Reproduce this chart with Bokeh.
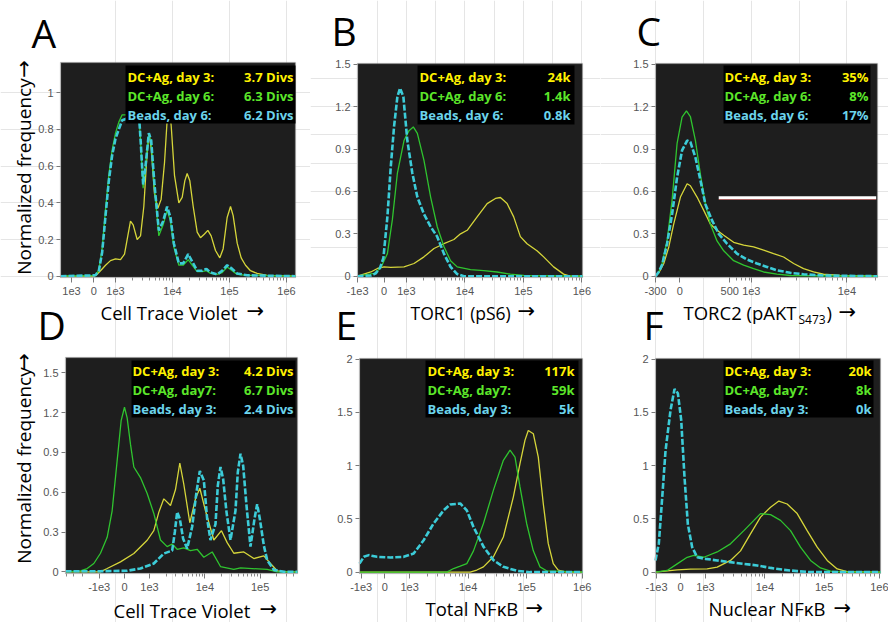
import math
from bokeh.plotting import figure
from bokeh.models import Label, BoxAnnotation, FixedTicker, Range1d, LinearAxis
from bokeh.layouts import row
from bokeh.embed import file_html
from bokeh.resources import INLINE

# ---------------- data (x in axis display units: 3 = 1e3, 4 = 1e4 ...) ----------------
A_cyan_x = [2.035, 2.649, 2.708, 2.766, 2.825, 2.883, 2.942, 3.0, 3.058, 3.117, 3.205, 3.292, 3.351, 3.392, 3.439, 3.485, 3.526, 3.585, 3.626, 3.684, 3.760, 3.836, 3.906, 3.965, 4.023, 4.111, 4.187, 4.275, 4.345, 4.433, 4.520, 4.596, 4.667, 4.784, 4.871, 4.959, 5.047, 5.135, 5.310, 6.158]
A_cyan_y = [0, 0.005, 0.03, 0.13, 0.33, 0.52, 0.66, 0.75, 0.8, 0.85, 0.86, 0.87, 0.95, 0.97, 0.75, 0.5, 0.6, 0.78, 0.74, 0.5, 0.25, 0.3, 0.38, 0.32, 0.18, 0.07, 0.07, 0.12, 0.08, 0.03, 0.03, 0.04, 0.02, 0.01, 0.03, 0.06, 0.04, 0.015, 0.005, 0]
A_green_x = A_cyan_x
A_green_y = [0, 0.005, 0.035, 0.15, 0.36, 0.55, 0.69, 0.78, 0.84, 0.88, 0.88, 0.88, 0.95, 0.97, 0.74, 0.48, 0.6, 0.77, 0.73, 0.48, 0.22, 0.28, 0.36, 0.3, 0.16, 0.06, 0.06, 0.09, 0.06, 0.025, 0.025, 0.03, 0.015, 0.01, 0.02, 0.05, 0.03, 0.01, 0.005, 0]
A_yellow_x = [2.035, 2.620, 2.678, 2.737, 2.825, 2.912, 3.0, 3.088, 3.158, 3.216, 3.263, 3.310, 3.380, 3.439, 3.497, 3.544, 3.585, 3.626, 3.684, 3.743, 3.801, 3.860, 3.906, 3.942, 3.977, 4.035, 4.111, 4.170, 4.216, 4.257, 4.304, 4.363, 4.433, 4.491, 4.561, 4.620, 4.678, 4.754, 4.830, 4.889, 4.959, 5.018, 5.064, 5.135, 5.205, 5.281, 5.368, 5.485, 5.661, 6.158]
A_yellow_y = [0, 0, 0.01, 0.03, 0.06, 0.085, 0.095, 0.09, 0.12, 0.22, 0.3, 0.28, 0.2, 0.22, 0.38, 0.62, 0.78, 0.7, 0.45, 0.37, 0.42, 0.62, 0.85, 0.93, 0.82, 0.55, 0.4, 0.43, 0.52, 0.56, 0.52, 0.38, 0.24, 0.21, 0.23, 0.25, 0.22, 0.14, 0.1, 0.15, 0.32, 0.38, 0.33, 0.18, 0.1, 0.06, 0.03, 0.015, 0.005, 0]

B_cyan_x = [2.165, 2.392, 2.477, 2.551, 2.608, 2.676, 2.733, 2.790, 2.847, 2.892, 2.949, 3.017, 3.102, 3.188, 3.301, 3.415, 3.528, 3.642, 3.756, 3.869, 3.983, 6.011]
B_cyan_y = [0, 0.005, 0.02, 0.06, 0.13, 0.42, 0.77, 1.06, 1.27, 1.33, 1.27, 0.96, 0.73, 0.56, 0.44, 0.35, 0.28, 0.16, 0.066, 0.015, 0, 0]
B_green_x = [2.165, 2.449, 2.563, 2.676, 2.761, 2.847, 2.960, 3.045, 3.119, 3.188, 3.301, 3.415, 3.528, 3.642, 3.756, 3.869, 4.097, 4.324, 4.551, 4.778, 5.006, 6.011]
B_green_y = [0, 0.02, 0.06, 0.16, 0.4, 0.73, 0.96, 1.03, 1.056, 1.01, 0.82, 0.56, 0.35, 0.21, 0.11, 0.066, 0.047, 0.04, 0.03, 0.015, 0.005, 0]
B_yellow_x = [2.165, 2.392, 2.506, 2.619, 2.733, 2.960, 3.131, 3.301, 3.472, 3.642, 3.813, 3.926, 4.040, 4.210, 4.381, 4.523, 4.608, 4.722, 4.835, 4.949, 5.063, 5.233, 5.347, 5.517, 5.688, 5.801, 6.011]
B_yellow_y = [0, 0.03, 0.055, 0.066, 0.062, 0.066, 0.09, 0.137, 0.196, 0.23, 0.26, 0.3, 0.325, 0.42, 0.514, 0.55, 0.557, 0.514, 0.42, 0.28, 0.23, 0.18, 0.137, 0.066, 0.015, 0, 0]

C_cyan_x = [1.997, 2.031, 2.066, 2.118, 2.171, 2.223, 2.275, 2.328, 2.362, 2.415, 2.467, 2.519, 2.589, 2.659, 2.746, 2.850, 2.955, 3.059, 3.164, 3.268, 3.408, 3.547, 3.756, 4.321]
C_cyan_y = [0, 0.03, 0.08, 0.23, 0.44, 0.7, 0.89, 0.96, 0.95, 0.84, 0.68, 0.51, 0.395, 0.3, 0.23, 0.16, 0.118, 0.09, 0.066, 0.042, 0.024, 0.014, 0.005, 0]
C_green_x = [1.997, 2.031, 2.066, 2.118, 2.171, 2.223, 2.275, 2.321, 2.362, 2.415, 2.467, 2.519, 2.571, 2.641, 2.711, 2.815, 2.920, 3.024, 3.129, 3.268, 3.408, 4.321]
C_green_y = [0, 0.03, 0.09, 0.25, 0.54, 0.94, 1.125, 1.17, 1.13, 0.96, 0.72, 0.51, 0.37, 0.25, 0.18, 0.11, 0.078, 0.054, 0.03, 0.015, 0.005, 0]
C_yellow_x = [1.997, 2.031, 2.084, 2.136, 2.188, 2.258, 2.328, 2.362, 2.432, 2.502, 2.571, 2.641, 2.711, 2.815, 2.920, 3.024, 3.129, 3.233, 3.338, 3.443, 3.547, 3.652, 3.756, 3.930, 4.321]
C_yellow_y = [0, 0.024, 0.09, 0.207, 0.37, 0.56, 0.654, 0.64, 0.56, 0.466, 0.37, 0.325, 0.29, 0.24, 0.22, 0.207, 0.184, 0.16, 0.136, 0.09, 0.054, 0.03, 0.014, 0.005, 0]
C_gate_x = [2.659, 4.307]
C_gate_y = 0.555
C_gate_edge_y = 0.543

D_cyan_x = [1.482, 2.114, 2.596, 2.837, 3.078, 3.259, 3.410, 3.458, 3.500, 3.548, 3.608, 3.681, 3.771, 3.849, 3.910, 3.982, 4.042, 4.102, 4.193, 4.235, 4.283, 4.331, 4.392, 4.464, 4.554, 4.596, 4.645, 4.693, 4.753, 4.825, 4.898, 4.946, 4.994, 5.066, 5.127, 5.247, 5.428, 5.675]
D_cyan_y = [0.005, 0.005, 0.008, 0.025, 0.063, 0.138, 0.16, 0.3, 0.45, 0.4, 0.25, 0.175, 0.34, 0.6, 0.76, 0.69, 0.4, 0.24, 0.36, 0.65, 0.79, 0.7, 0.45, 0.24, 0.46, 0.75, 0.89, 0.8, 0.5, 0.19, 0.4, 0.51, 0.4, 0.2, 0.088, 0.015, 0, 0]
D_green_x = [1.482, 1.753, 1.873, 1.994, 2.114, 2.235, 2.325, 2.416, 2.488, 2.548, 2.596, 2.657, 2.717, 2.837, 2.958, 3.078, 3.199, 3.319, 3.410, 3.500, 3.620, 3.741, 3.861, 3.982, 4.133, 4.283, 4.524, 4.645, 5.127, 5.307, 5.675]
D_green_y = [0, 0.008, 0.025, 0.063, 0.14, 0.26, 0.46, 0.84, 1.14, 1.24, 1.16, 0.96, 0.79, 0.71, 0.59, 0.44, 0.24, 0.19, 0.21, 0.17, 0.18, 0.16, 0.17, 0.11, 0.15, 0.04, 0.018, 0.03, 0.018, 0, 0]
D_yellow_x = [1.482, 2.114, 2.235, 2.476, 2.717, 2.958, 3.078, 3.169, 3.259, 3.380, 3.470, 3.548, 3.620, 3.729, 3.831, 3.910, 4.012, 4.163, 4.301, 4.404, 4.524, 4.705, 4.886, 5.066, 5.187, 5.307, 5.488, 5.675]
D_yellow_y = [0, 0, 0.025, 0.075, 0.138, 0.238, 0.31, 0.45, 0.55, 0.5, 0.62, 0.82, 0.66, 0.37, 0.55, 0.63, 0.46, 0.24, 0.31, 0.22, 0.14, 0.15, 0.1, 0.12, 0.063, 0.008, 0, 0]

E_cyan_x = [2.142, 2.216, 2.301, 2.443, 2.670, 2.898, 3.068, 3.239, 3.409, 3.580, 3.693, 3.864, 3.977, 4.091, 4.261, 4.432, 4.602, 4.830, 5.057, 5.955]
E_cyan_y = [0.08, 0.144, 0.16, 0.144, 0.138, 0.144, 0.175, 0.3, 0.457, 0.58, 0.635, 0.645, 0.58, 0.425, 0.24, 0.113, 0.05, 0.013, 0, 0]
E_green_x = [2.142, 3.636, 3.750, 3.864, 3.977, 4.091, 4.261, 4.432, 4.602, 4.716, 4.801, 4.886, 5.0, 5.114, 5.227, 5.341, 5.955]
E_green_y = [0, 0, 0.034, 0.056, 0.08, 0.2, 0.457, 0.77, 1.05, 1.145, 1.08, 0.8, 0.457, 0.2, 0.05, 0.013, 0]
E_yellow_x = [2.142, 4.034, 4.148, 4.261, 4.432, 4.602, 4.773, 4.886, 4.972, 5.028, 5.114, 5.199, 5.284, 5.369, 5.455, 5.540, 5.682, 5.955]
E_yellow_y = [0, 0, 0.02, 0.05, 0.144, 0.33, 0.707, 1.02, 1.24, 1.33, 1.3, 1.08, 0.645, 0.27, 0.08, 0.02, 0, 0]

F_cyan_x = [2.157, 2.213, 2.270, 2.326, 2.410, 2.478, 2.534, 2.590, 2.646, 2.702, 2.775, 2.860, 3.0, 3.197, 3.421, 3.646, 3.871, 4.096, 4.320, 4.545, 4.770, 5.949]
F_cyan_y = [0.11, 0.27, 0.7, 1.14, 1.52, 1.72, 1.68, 1.43, 0.89, 0.45, 0.235, 0.14, 0.125, 0.11, 0.094, 0.078, 0.063, 0.04, 0.022, 0.01, 0, 0]
F_green_x = [2.157, 2.354, 2.522, 2.691, 2.803, 2.972, 3.197, 3.421, 3.646, 3.815, 3.927, 4.096, 4.264, 4.433, 4.601, 4.770, 4.938, 5.107, 5.331, 5.949]
F_green_y = [0, 0.016, 0.078, 0.14, 0.157, 0.14, 0.19, 0.266, 0.39, 0.486, 0.55, 0.54, 0.486, 0.39, 0.235, 0.11, 0.04, 0.01, 0, 0]
F_yellow_x = [2.157, 2.522, 2.747, 3.028, 3.197, 3.421, 3.590, 3.758, 3.927, 4.096, 4.236, 4.376, 4.545, 4.713, 4.882, 5.051, 5.219, 5.388, 5.949]
F_yellow_y = [0, 0.022, 0.028, 0.03, 0.047, 0.11, 0.2, 0.36, 0.517, 0.61, 0.668, 0.64, 0.55, 0.39, 0.235, 0.11, 0.03, 0.006, 0]

# axis ranges of each panel's plot area (display units)
A_xr, A_yr = (2.035, 6.158), (-0.007, 1.165)
B_xr, B_yr = (2.165, 6.011), (-0.009, 1.505)
C_xr, C_yr = (1.997, 4.321), (-0.009, 1.505)
D_xr, D_yr = (1.482, 5.675), (-0.0125, 1.615)
E_xr, E_yr = (2.142, 5.955), (-0.0125, 2.006)
F_xr, F_yr = (2.157, 5.949), (-0.0125, 2.006)

# tick positions (display units) and labels
A_xticks = [2.228, 2.62, 3.0, 4.0, 5.0, 6.0]
A_xlabels = ["1e3", "0", "1e3", "1e4", "1e5", "1e6"]
B_xticks = [2.165, 2.619, 3.0, 4.0, 5.0, 6.0]
B_xlabels = ["-1e3", "0", "1e3", "1e4", "1e5", "1e6"]
C_xticks = [1.997, 2.251, 2.774, 3.0, 4.0]
C_xlabels = ["-300", "0", "500", "1e3", "1e4"]
D_xticks = [2.09, 2.548, 3.0, 4.0, 5.0]
D_xlabels = ["-1e3", "0", "1e3", "1e4", "1e5"]
E_xticks = [2.17, 2.574, 3.0, 4.0, 5.0, 5.95]
E_xlabels = ["-1e3", "0", "1e3", "1e4", "1e5", "1e6"]
F_xticks = [2.174, 2.579, 3.0, 4.0, 5.0, 5.94]
F_xlabels = ["-1e3", "0", "1e3", "1e4", "1e5", "1e6"]

Y1_ticks = [0, 0.2, 0.4, 0.6, 0.8, 1.0]
Y1_labels = ["0", "0.2", "0.4", "0.6", "0.8", "1"]
Y2_ticks = [0, 0.3, 0.6, 0.9, 1.2, 1.5]
Y2_labels = ["0", "0.3", "0.6", "0.9", "1.2", "1.5"]
Y3_ticks = [0, 0.5, 1.0, 1.5, 2.0]
Y3_labels = ["0", "0.5", "1", "1.5", "2"]

LEG_TOP = ["DC+Ag,  day 3:", "DC+Ag, day 6:", "Beads,  day 6:"]
LEG_BOT = ["DC+Ag, day 3:", "DC+Ag, day7:", "Beads, day 3:"]
A_vals = ["3.7 Divs", "6.3 Divs", "6.2 Divs"]
B_vals = ["24k", "1.4k", "0.8k"]
C_vals = ["35%", "8%", "17%"]
D_vals = ["4.2 Divs", "6.7 Divs", "2.4 Divs"]
E_vals = ["117k", "59k", "5k"]
F_vals = ["20k", "8k", "0k"]

# ---------------- styling ----------------
YEL_LINE = "#D6D63A"
GRN_LINE = "#2FC42F"
CYN_LINE = "#3CCCD8"
TXT_COL = ["#FFF200", "#5CE62A", "#6CD4EC"]
TICK_FONT = "Liberation Sans"
SANS = "Open Sans"
ARROW = "\u2192"
PAGE_H = 622

ORIGIN = {}


def log_minors(lo, hi):
    out = []
    for d in range(3, 7):
        for m in range(2, 10):
            v = d + math.log10(m)
            if lo < v < hi:
                out.append(round(v, 4))
    return out


def ranges_for(canvas, box, xr, yr):
    cx0, cy0, cx1, cy1 = canvas
    bx0, by0, bx1, by1 = box
    u0, u1 = xr
    v0, v1 = yr
    kx = (u1 - u0) / (bx1 - bx0)
    ky = (v1 - v0) / (by1 - by0)
    return ((u0 - (bx0 - cx0) * kx, u1 + (cx1 - bx1) * kx),
            (v0 - (cy1 - by1) * ky, v1 + (by0 - cy0) * ky))


def style_axis(ax):
    ax.axis_line_color = "#b8b8b8"
    ax.major_tick_line_color = "#7a7a7a"
    ax.minor_tick_line_color = "#8a8a8a"
    ax.major_label_text_font = TICK_FONT
    ax.major_label_text_font_size = "11px"
    ax.major_label_text_color = "#555555"
    ax.major_tick_in = 0
    ax.minor_tick_in = 0


def make_col(cx0, cx1, panels):
    """One figure per column holding two panels; its frame fills the whole canvas.
    panels: list of (box, xr, yr, xticks, xlabels, xminor, yticks, ylabels)."""
    canvas = (cx0, 0, cx1, PAGE_H)
    rngs = [ranges_for(canvas, pn[0], pn[1], pn[2]) for pn in panels]
    p = figure(width=cx1 - cx0, height=PAGE_H,
               x_range=Range1d(*rngs[0][0]), y_range=Range1d(*rngs[0][1]),
               x_axis_location=None, y_axis_location=None,
               output_backend="svg", toolbar_location=None,
               min_border=0, min_border_left=0, min_border_right=0,
               min_border_top=0, min_border_bottom=0)
    p.extra_x_ranges = {"bot": Range1d(*rngs[1][0])}
    p.extra_y_ranges = {"bot": Range1d(*rngs[1][1])}
    p.background_fill_color = "white"
    p.border_fill_color = "white"
    p.outline_line_color = None
    ORIGIN[p.id] = (cx0, PAGE_H)
    for (box, xr, yr, xt, xl, xminor, yt, yl), rn in zip(panels, ("default", "bot")):
        bx0, by0, bx1, by1 = box
        p.add_layout(BoxAnnotation(left=bx0 - cx0, right=bx1 - cx0,
                                   top=PAGE_H - by0, bottom=PAGE_H - by1,
                                   left_units="screen", right_units="screen",
                                   top_units="screen", bottom_units="screen",
                                   fill_color="#1e1e1e", fill_alpha=1.0,
                                   line_color="#a8a8a8", line_width=1.5, level="underlay"))
        xa = LinearAxis(x_range_name=rn, y_range_name=rn, fixed_location=yr[0], bounds=xr,
                        ticker=FixedTicker(ticks=xt, minor_ticks=xminor),
                        major_label_overrides=dict(zip(xt, xl)))
        style_axis(xa)
        xa.major_tick_out = 5
        xa.minor_tick_out = 3
        xa.major_label_standoff = 4
        p.add_layout(xa, "below")
        ya = LinearAxis(x_range_name=rn, y_range_name=rn, fixed_location=xr[0], bounds=yr,
                        ticker=FixedTicker(ticks=yt, minor_ticks=[]),
                        major_label_overrides=dict(zip(yt, yl)))
        style_axis(ya)
        ya.major_tick_out = 4
        ya.major_label_standoff = 3
        p.add_layout(ya, "left")
    return p


def put(p, X, base, text, size, color="black", align="left", font=SANS, style="normal",
        angle=0.0, mid=None):
    """X: page x; base: page y of the text baseline (or mid: page y of its middle)."""
    cx0, cy1 = ORIGIN[p.id]
    Y = mid if mid is not None else base - 0.34 * size
    p.add_layout(Label(x=X - cx0, y=cy1 - Y, x_units="screen", y_units="screen", text=text,
                       text_font=font, text_font_size=f"{size}px", text_color=color,
                       text_align=align, text_baseline="middle", text_font_style=style,
                       angle=angle))


def curves(p, rn, yx, yy, gx, gy, cx, cy):
    kw = dict(x_range_name=rn, y_range_name=rn)
    p.line(yx, yy, line_color=YEL_LINE, line_width=1.3, **kw)
    p.line(gx, gy, line_color=GRN_LINE, line_width=1.3, **kw)
    p.line(cx, cy, line_color=CYN_LINE, line_width=2.6, line_dash="6 2", **kw)


def legend(p, box, left_x, right_x, baselines, names, vals):
    cx0, cy1 = ORIGIN[p.id]
    x0, x1, y0, y1 = box
    p.add_layout(BoxAnnotation(left=x0 - cx0, right=x1 - cx0, top=cy1 - y0, bottom=cy1 - y1,
                               left_units="screen", right_units="screen",
                               top_units="screen", bottom_units="screen",
                               fill_color="black", fill_alpha=1.0, line_color=None))
    for i in range(3):
        put(p, left_x, baselines[i], names[i], 13, TXT_COL[i], "left", style="bold")
        put(p, right_x, baselines[i], vals[i], 13, TXT_COL[i], "right", style="bold")


def xtitle(p, X, base, text, arrow_x, size=18.5):
    put(p, X, base, text, size)
    put(p, arrow_x, base, ARROW, 21, font="DejaVu Sans")


def ytitle(p, text_mid, arrow_mid):
    put(p, 23, None, "Normalized frequency", 19, align="center", angle=math.pi / 2,
        mid=text_mid)
    put(p, 23, None, ARROW, 21, align="center", angle=math.pi / 2, font="DejaVu Sans",
        mid=arrow_mid)


p1 = make_col(0, 310, [
    ((60, 62, 295, 277), A_xr, A_yr, A_xticks, A_xlabels, log_minors(3.0, A_xr[1]),
     Y1_ticks, Y1_labels),
    ((65, 357, 297, 573), D_xr, D_yr, D_xticks, D_xlabels,
     [1.494, 1.619, 1.795] + log_minors(3.0, D_xr[1]), Y2_ticks, Y2_labels)])
p2 = make_col(310, 600, [
    ((357, 63, 582, 277), B_xr, B_yr, B_xticks, B_xlabels, log_minors(3.0, B_xr[1]),
     Y2_ticks, Y2_labels),
    ((359, 358, 582, 573), E_xr, E_yr, E_xticks, E_xlabels, log_minors(3.0, 5.9),
     Y3_ticks, Y3_labels)])
p3 = make_col(600, 888, [
    ((655, 63, 877, 277), C_xr, C_yr, C_xticks, C_xlabels,
     [2.850, 2.902, 2.944, 2.979] + log_minors(3.0, C_xr[1]), Y2_ticks, Y2_labels),
    ((655, 358, 880, 573), F_xr, F_yr, F_xticks, F_xlabels, log_minors(3.0, 5.9),
     Y3_ticks, Y3_labels)])

curves(p1, "default", A_yellow_x, A_yellow_y, A_green_x, A_green_y, A_cyan_x, A_cyan_y)
curves(p2, "default", B_yellow_x, B_yellow_y, B_green_x, B_green_y, B_cyan_x, B_cyan_y)
curves(p3, "default", C_yellow_x, C_yellow_y, C_green_x, C_green_y, C_cyan_x, C_cyan_y)
curves(p1, "bot", D_yellow_x, D_yellow_y, D_green_x, D_green_y, D_cyan_x, D_cyan_y)
curves(p2, "bot", E_yellow_x, E_yellow_y, E_green_x, E_green_y, E_cyan_x, E_cyan_y)
curves(p3, "bot", F_yellow_x, F_yellow_y, F_green_x, F_green_y, F_cyan_x, F_cyan_y)

# gate marker in panel C (white bar with a dark red lower edge)
p3.segment(x0=[C_gate_x[0]], y0=[C_gate_edge_y], x1=[C_gate_x[1]], y1=[C_gate_edge_y],
           line_color="#8a2a2a", line_width=1.2)
p3.segment(x0=[C_gate_x[0]], y0=[C_gate_y], x1=[C_gate_x[1]], y1=[C_gate_y],
           line_color="white", line_width=3)

# legends
legend(p1, (125, 295, 65, 123), 127, 293, [81, 100, 119], LEG_TOP, A_vals)
legend(p2, (417, 574, 65, 124), 419, 570, [81, 100, 119], LEG_TOP, B_vals)
legend(p3, (723, 870, 65, 123), 724, 868, [81, 100, 119], LEG_TOP, C_vals)
legend(p1, (131, 295, 360, 417), 132, 293, [375, 394, 413], LEG_BOT, D_vals)
legend(p2, (425, 578, 360, 417), 427, 574, [375, 394, 413], LEG_BOT, E_vals)
legend(p3, (723, 873, 360, 417), 724, 871, [375, 394, 413], LEG_BOT, F_vals)

# panel letters
put(p1, 31, 45, "A", 39)
put(p2, 331, 43, "B", 39)
put(p3, 636, 43, "C", 39)
put(p1, 37, 337, "D", 39)
put(p2, 335, 337, "E", 39)
put(p3, 643, 337, "F", 39)

# y axis titles
ytitle(p1, 176, 68.5)
ytitle(p1, 465, 361.5)

# x axis titles
xtitle(p1, 100, 318, "Cell Trace Violet", 246)
xtitle(p2, 410, 318, "TORC1 (pS6)", 517, size=17.5)
put(p3, 683, 318.5, "TORC2 (pAKT", 18.5)
put(p3, 798, 323.5, "S473", 12)
put(p3, 826, 318.5, ")", 18.5)
put(p3, 838, 318.5, ARROW, 21, font="DejaVu Sans")
xtitle(p1, 113, 616, "Cell Trace Violet", 259)
xtitle(p2, 425, 614.5, "Total NF\u03baB", 525)
xtitle(p3, 708, 614.5, "Nuclear NF\u03baB", 833)

layout = row(p1, p2, p3)
open("out.html", "w").write(file_html(layout, INLINE))
